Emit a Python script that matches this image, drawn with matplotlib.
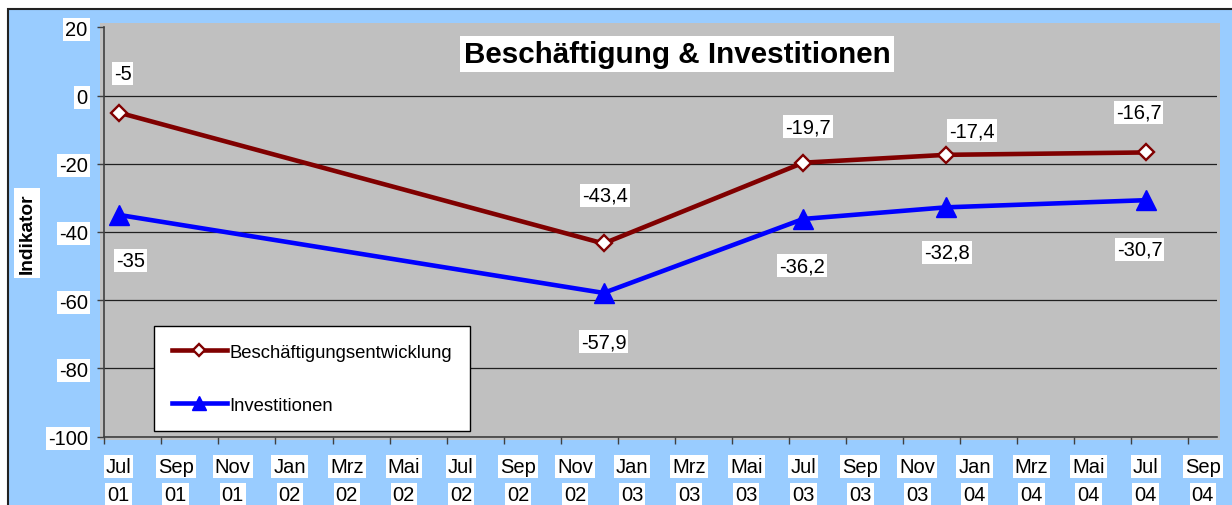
import numpy as np
import matplotlib.pyplot as plt
from matplotlib.patches import Rectangle
from matplotlib.transforms import blended_transform_factory

plt.rcParams['font.family'] = ['Liberation Sans', 'DejaVu Sans']

# data
dates = ["2001-07", "2002-12", "2003-07", "2003-12", "2004-07"]
beschaeftigung = [-5, -43.4, -19.7, -17.4, -16.7]
investitionen = [-35, -57.9, -36.2, -32.8, -30.7]
tick_months = ["Jul", "Sep", "Nov", "Jan", "Mrz", "Mai", "Jul", "Sep", "Nov", "Jan",
               "Mrz", "Mai", "Jul", "Sep", "Nov", "Jan", "Mrz", "Mai", "Jul", "Sep"]
tick_years = ["01", "01", "01", "02", "02", "02", "02", "02", "02", "03",
              "03", "03", "03", "03", "03", "04", "04", "04", "04", "04"]
y_ticks = [20, 0, -20, -40, -60, -80, -100]


def month_index(s):
    # months since Jul 2001, placed in the middle of the month
    y, m = s.split("-")
    return (int(y) - 2001) * 12 + int(m) - 7 + 0.5


x = np.array([month_index(d) for d in dates])

# label offsets in pixels (dx, dy)
off_b = [(4, 39), (1, 48), (5, 36), (26, 24), (-7, 40)]
off_i = [(12, -46), (0, -49), (-1, -47), (1, -45), (-6, -49)]

W, H = 1232, 506
fig = plt.figure(figsize=(W / 100, H / 100), dpi=100)
fig.patch.set_facecolor('white')


def px(x0, y0):
    return x0 / W, 1 - y0 / H


# outer frame, light blue
fx, fy = px(8, 10)
fig.patches.append(Rectangle((fx, -0.05), 1.1, fy + 0.05, transform=fig.transFigure,
                             facecolor='#99CCFF', edgecolor='#222222', linewidth=1.5, zorder=0))
# gray plot area
gx0, gy1 = px(100, 24)
gx1, gy0 = px(1220, 441)
fig.patches.append(Rectangle((gx0, gy0), gx1 - gx0, gy1 - gy0, transform=fig.transFigure,
                             facecolor='#C0C0C0', edgecolor='none', zorder=0.5))

left, top = px(104.3, 28.3)
right, bottom = px(1217, 437.5)
ax = fig.add_axes([left, bottom, right - left, top - bottom])
ax.set_zorder(2)
ax.patch.set_visible(False)

ax.set_xlim(0, 39)
ax.set_ylim(-100, 20)

ax.plot(x, beschaeftigung, color='#800000', linewidth=3.3, marker='D', markersize=8.5,
        markerfacecolor='white', markeredgecolor='#800000', markeredgewidth=1.7,
        label='Beschäftigungsentwicklung', zorder=3)
ax.plot(x, investitionen, color='#0000FF', linewidth=3.3, marker='^', markersize=15,
        markerfacecolor='#0000FF', markeredgecolor='#0000FF',
        label='Investitionen', zorder=3)

box = dict(boxstyle='square,pad=0.1', facecolor='white', edgecolor='none')
for xi, v, o in zip(x, beschaeftigung, off_b):
    ax.annotate(f"{v:g}".replace('.', ','), (xi, v), xytext=o, textcoords='offset pixels',
                ha='center', va='center', fontsize=14.5, bbox=box, zorder=4)
for xi, v, o in zip(x, investitionen, off_i):
    ax.annotate(f"{v:g}".replace('.', ','), (xi, v), xytext=o, textcoords='offset pixels',
                ha='center', va='center', fontsize=14.5, bbox=box, zorder=4)

# axes styling
for s in ['top', 'right']:
    ax.spines[s].set_visible(False)
for s in ['left', 'bottom']:
    ax.spines[s].set_color('#404040')
    ax.spines[s].set_linewidth(1.2)

ax.set_yticks(y_ticks)
ax.set_yticklabels([str(t) for t in y_ticks])
ax.tick_params(axis='y', length=5, width=1, color='#404040', pad=7, labelsize=14.5)
plt.setp(ax.get_yticklabels(), bbox=box)
ax.yaxis.grid(True, color='#202020', linewidth=0.9)
ax.get_ygridlines()[0].set_visible(False)

ax.set_xticks(np.arange(0, 39, 2))
ax.set_xticklabels([])
ax.tick_params(axis='x', length=5, width=1, color='#404040')
trans = blended_transform_factory(ax.transData, ax.transAxes)
for i, (m, yr) in enumerate(zip(tick_months, tick_years)):
    xm = 2 * i + 0.5
    ax.text(xm, -0.0745, m, transform=trans, ha='center', va='center', fontsize=14.5,
            bbox=box, clip_on=False)
    ax.text(xm, -0.142, yr, transform=trans, ha='center', va='center', fontsize=14.5,
            bbox=box, clip_on=False)

# title and y label
tx, ty = px(677, 55)
fig.text(tx, ty, 'Beschäftigung & Investitionen', ha='center', va='center',
         fontsize=21.3, fontweight='bold', bbox=dict(boxstyle='square,pad=0.12',
                                                    facecolor='white', edgecolor='none'),
         zorder=5)
lx, ly = px(27, 234)
fig.text(lx, ly, 'Indikator', rotation=90, ha='center', va='center', fontsize=13.8,
         fontweight='bold', bbox=dict(boxstyle='square,pad=0.25', facecolor='white',
                                      edgecolor='none'))

lgx, lgy = px(154, 327)
leg = ax.legend(loc='upper left', bbox_to_anchor=(lgx, lgy), bbox_transform=fig.transFigure,
                fontsize=13.3, frameon=True, fancybox=False, borderaxespad=0, borderpad=0.95,
                handlelength=3.0, handletextpad=0.15, labelspacing=1.95, markerscale=0.7)
leg.get_frame().set_edgecolor('black')
leg.get_frame().set_linewidth(1)
leg.get_frame().set_facecolor('white')
leg.get_frame().set_alpha(1)

fig.savefig('out.png', dpi=100)
